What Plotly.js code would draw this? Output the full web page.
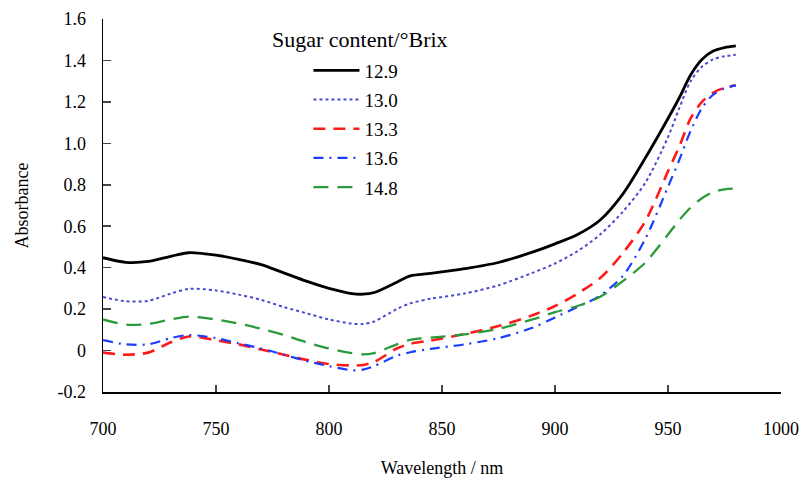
<!DOCTYPE html>
<html>
<head>
<meta charset="utf-8">
<script src="https://cdn.plot.ly/plotly-3.0.1.min.js"></script>
<style>html,body{margin:0;padding:0;background:#fff}#chart{width:810px;height:484px}</style>
</head>
<body>
<div id="chart"></div>
<script>
var wavelength = [700,710,720,730,738,750,760,770,780,790,800,810,815,820,830,836,845,860,875,890,900,910,920,930,940,950,955,960,965,970,975,980];
var brix129 = [0.448,0.426,0.430,0.455,0.472,0.460,0.440,0.415,0.375,0.335,0.300,0.275,0.272,0.280,0.330,0.360,0.372,0.395,0.425,0.475,0.515,0.560,0.630,0.755,0.930,1.120,1.220,1.330,1.405,1.445,1.462,1.470];
var brix130 = [0.258,0.238,0.240,0.275,0.298,0.290,0.270,0.245,0.210,0.180,0.150,0.130,0.128,0.140,0.200,0.228,0.250,0.275,0.315,0.375,0.420,0.480,0.560,0.670,0.810,1.030,1.170,1.300,1.370,1.405,1.420,1.427];
var brix133 = [-0.010,-0.020,-0.010,0.040,0.068,0.050,0.030,0.005,-0.020,-0.045,-0.065,-0.072,-0.070,-0.055,0.010,0.033,0.048,0.080,0.118,0.170,0.215,0.275,0.350,0.470,0.625,0.865,0.985,1.120,1.200,1.245,1.268,1.280];
var brix136 = [0.050,0.030,0.030,0.060,0.075,0.060,0.035,0.010,-0.020,-0.050,-0.075,-0.095,-0.092,-0.075,-0.025,-0.008,0.008,0.030,0.060,0.110,0.160,0.210,0.265,0.360,0.540,0.790,0.920,1.060,1.170,1.235,1.265,1.280];
var brix148 = [0.150,0.125,0.128,0.150,0.164,0.150,0.130,0.105,0.075,0.040,0.010,-0.012,-0.018,-0.012,0.030,0.052,0.062,0.078,0.105,0.150,0.185,0.215,0.260,0.335,0.425,0.560,0.630,0.690,0.735,0.765,0.778,0.782];
var seriesNames = ["12.9","13.0","13.3","13.6","14.8"];
var legendTitle = "Sugar content/°Brix";
var xTickVals = [700,750,800,850,900,950,1000];
var yTickVals = [-0.2,0,0.2,0.4,0.6,0.8,1.0,1.2,1.4,1.6];
var yTickText = ["-0.2","0","0.2","0.4","0.6","0.8","1.0","1.2","1.4","1.6"];

var styles = [
  {color:"#000000", width:2.8, dash:"solid"},
  {color:"#4a4ad0", width:2, dash:"dot"},
  {color:"#ff1a1a", width:2.6, dash:"12px,8px"},
  {color:"#1a3cff", width:2.2, dash:"10px,6px,2px,6px"},
  {color:"#2a9a3a", width:2.3, dash:"15px,9px"}
];
var ys = [brix129, brix130, brix133, brix136, brix148];
var traces = ys.map(function(y,i){
  return {x:wavelength, y:y, type:"scatter", mode:"lines", name:seriesNames[i],
    legendgroup:"g"+i,
    line:{color:styles[i].color, width:styles[i].width, dash:styles[i].dash, shape:"spline", smoothing:0.8}};
});

var font = "Liberation Serif";
var layout = {
  width:810, height:484,
  margin:{l:103, r:29, t:19, b:92},
  paper_bgcolor:"#fff", plot_bgcolor:"#fff",
  font:{family:font, color:"#000", size:18},
  showlegend:true,
  legend:{
    x:0.303, y:0.913, xanchor:"left", yanchor:"top",
    bgcolor:"rgba(0,0,0,0)",
    font:{family:font, size:19, color:"#000"},
    itemwidth:46, tracegroupgap:1.5
  },
  annotations:[{
    text:legendTitle, xref:"paper", yref:"paper", x:0.379, y:0.944,
    xanchor:"center", yanchor:"middle", showarrow:false,
    font:{family:font, size:22, color:"#000"}
  }],
  xaxis:{
    range:[700,1000], tickvals:xTickVals, ticks:"inside", ticklen:7, tickwidth:1.5,
    showline:true, linecolor:"#000", linewidth:1.5, showgrid:false, zeroline:false,
    tickfont:{family:font, size:18, color:"#000"}, ticklabelstandoff:20,
    title:{text:"Wavelength / nm", font:{family:font, size:18, color:"#000"}, standoff:23}
  },
  yaxis:{
    range:[-0.2,1.6], tickvals:yTickVals, ticktext:yTickText, ticks:"inside", ticklen:8, tickwidth:1.5,
    showline:true, linecolor:"#000", linewidth:1.5, showgrid:false, zeroline:false,
    tickfont:{family:font, size:18, color:"#000"}, ticklabelstandoff:12,
    title:{text:"Absorbance", font:{family:font, size:18, color:"#000"}, standoff:24}
  }
};
Plotly.newPlot("chart", traces, layout, {displayModeBar:false, staticPlot:true});
</script>
</body>
</html>
